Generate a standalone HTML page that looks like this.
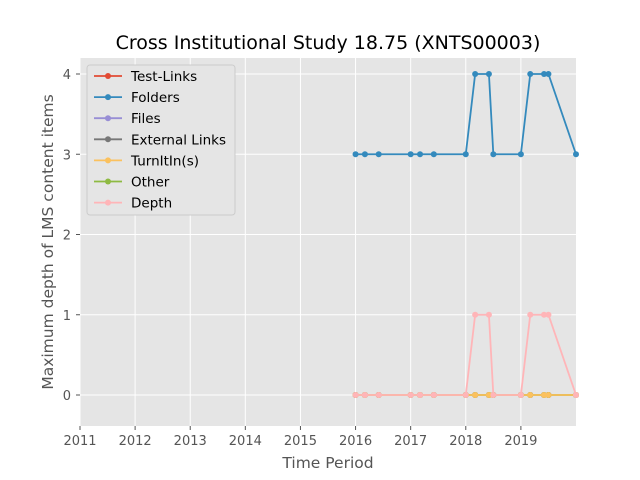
<!DOCTYPE html>
<html><head><meta charset="utf-8"><style>body{margin:0;background:#fff}svg{display:block;font-family:"DejaVu Sans","Liberation Sans",sans-serif}</style></head>
<body>
<svg id="chart" width="640" height="480"></svg>
<script>
const dates=[2016.0,2016.17,2016.42,2017.0,2017.17,2017.42,2018.0,2018.17,2018.42,2018.5,2019.0,2019.17,2019.42,2019.5,2020.0];
const folders=[3,3,3,3,3,3,3,4,4,3,3,4,4,4,3];
const depth=[0,0,0,0,0,0,0,1,1,0,0,1,1,1,0];
const zeros=[0,0,0,0,0,0,0,0,0,0,0,0,0,0,0];
const seriesNames=["Test-Links","Folders","Files","External Links","TurnItIn(s)","Other","Depth"];
const seriesColors=["#E24A33","#348ABD","#988ED5","#777777","#FBC15E","#8EBA42","#FFB5B8"];
const seriesData=[zeros,folders,zeros,zeros,zeros,zeros,depth];
const drawOrder=[0,1,2,3,5,4,6];
const xTicks=[2011,2012,2013,2014,2015,2016,2017,2018,2019];
const yTicks=[0,1,2,3,4];
const L=80,R=576,T=58,B=426;
const xs=v=>L+(v-2011)*(R-L)/9;
const ys=v=>395-(v)*80.25;
const svg=document.getElementById('chart');const NS="http://www.w3.org/2000/svg";
function el(t,a,p){const e=document.createElementNS(NS,t);for(const k in a)e.setAttribute(k,a[k]);(p||svg).appendChild(e);return e;}
let r=el('rect',{x:L,y:T,width:R-L,height:B-T,fill:'#E5E5E5'});


xTicks.forEach(t=>{const x=xs(t);
 let g=el('line',{x1:x,x2:x,y1:T,y2:B,stroke:'#fff','stroke-width':1});
 
 
 el('line',{x1:x,x2:x,y1:B,y2:B+4,stroke:'#555'});
 let tx=el('text',{x:x,y:B+19,'text-anchor':'middle','font-size':13,fill:'#555'});tx.textContent=t;
 
 });
yTicks.forEach(t=>{const y=ys(t);
 let g=el('line',{x1:L,x2:R,y1:y,y2:y,stroke:'#fff','stroke-width':1});
 
 
 el('line',{x1:L-4,x2:L,y1:y,y2:y,stroke:'#555'});
 let tx=el('text',{x:L-9,y:y+5,'text-anchor':'end','font-size':13,fill:'#555'});tx.textContent=t;
 
 });
drawOrder.forEach(i=>{const d=seriesData[i];const g=el('g',{});
 
 
 el('polyline',{points:d.map((v,j)=>xs(dates[j])+','+ys(v)).join(' '),fill:'none',stroke:seriesColors[i],'stroke-width':1.8},g);
 d.forEach((v,j)=>{const c=el('circle',{cx:xs(dates[j]),cy:ys(v),r:3,fill:seriesColors[i]},g);
  
  });});
let t=el('text',{x:328,y:49,'text-anchor':'middle','font-size':19,fill:'#000'});t.textContent='Cross Institutional Study 18.75 (XNTS00003)';


t=el('text',{x:328,y:468,'text-anchor':'middle','font-size':15.5,fill:'#555'});t.textContent='Time Period';


t=el('text',{x:0,y:0,'text-anchor':'middle','font-size':15.5,fill:'#555',transform:'translate(53,242) rotate(-90)'});t.textContent='Maximum depth of LMS content items';


const lg=el('g',{});


el('rect',{x:87,y:65,width:148,height:150,rx:3,fill:'#E5E5E5',stroke:'#ccc'},lg);
seriesNames.forEach((n,i)=>{const y=76+i*21.1;const g=el('g',{},lg);
 
 
 el('line',{x1:94,x2:122,y1:y,y2:y,stroke:seriesColors[i],'stroke-width':1.8},g);
 el('circle',{cx:108,cy:y,r:3,fill:seriesColors[i]},g);
 const tx=el('text',{x:131,y:y+5,'font-size':13.5,fill:'#000'},g);tx.textContent=n;});
</script>
</body></html>
